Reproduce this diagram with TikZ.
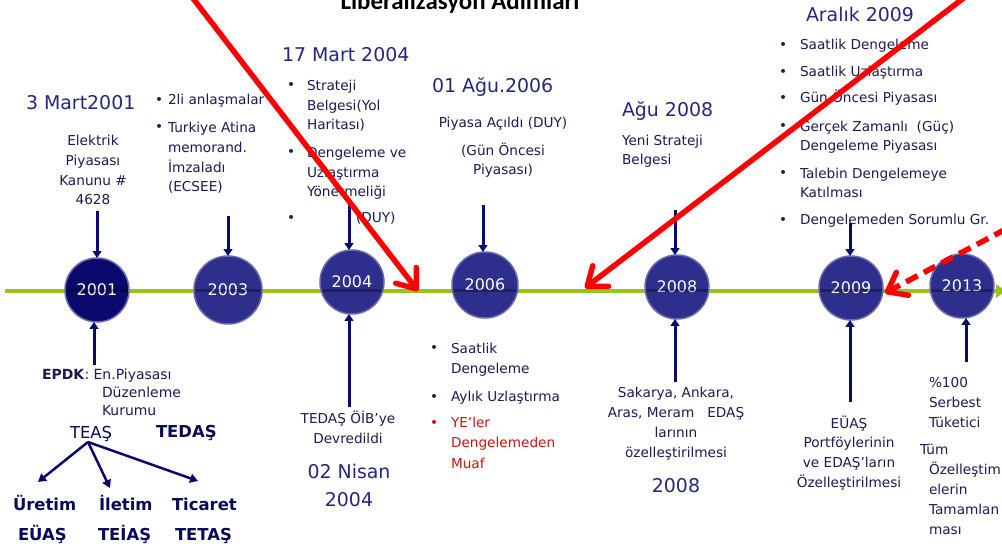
\documentclass[tikz,border=0pt]{standalone}
\usepackage{fontspec}
\setmainfont{DejaVu Sans}
\newfontfamily\titlefont{Carlito}
\usetikzlibrary{arrows.meta}
\definecolor{datecol}{HTML}{262680}
\definecolor{bodycol}{HTML}{1C1C50}
\definecolor{boldcol}{HTML}{0A0A5A}
\definecolor{circcol}{HTML}{2E2E8C}
\definecolor{circdark}{HTML}{0A0A6C}
\definecolor{circedge}{HTML}{6A6AAE}
\definecolor{navy}{HTML}{0A0A6E}
\definecolor{linegreen}{HTML}{99C31F}
\definecolor{redtext}{HTML}{CC1414}
\begin{document}
\begin{tikzpicture}[x=1bp,y=-1bp,
  every node/.style={inner sep=0pt, outer sep=0pt},
  date/.style={font=\fontsize{19}{28}\selectfont, text=datecol, align=center},
  body/.style={font=\fontsize{13.7}{20}\selectfont, text=bodycol, align=left},
  bodyc/.style={font=\fontsize{13.7}{20}\selectfont, text=bodycol, align=center},
  bul/.style={font=\fontsize{13.7}{20}\selectfont, text=bodycol},
  year/.style={circle, fill=circcol, draw=circedge, line width=1.5bp, minimum size=64bp, text=white, font=\fontsize{16}{16}\selectfont},
  navyarrow/.style={draw=navy, line width=3bp, -{Triangle[length=7pt,width=9pt]}},
  treearrow/.style={draw=navy, line width=2.5bp, -{Triangle[length=8pt,width=9pt]}},
  bigbold/.style={font=\fontsize{16.5}{20}\selectfont\bfseries, text=boldcol},
  redarrow/.style={draw=red, line width=5.5bp, -{Straight Barb[length=17pt,width=26pt,round]}},
]
\useasboundingbox (0,0) rectangle (1002,546);
\fill[white] (0,0) rectangle (1002,546);

% title (cut at top)
\node[anchor=base, font=\titlefont\bfseries\fontsize{25}{25}\selectfont, text=black] (title) at (460,10) {Liberalizasyon Adımları};

% timeline
\coordinate (gstart) at (5,291);
\coordinate (gend) at (1006,291);
\draw[linegreen, line width=4bp, -{Triangle[length=10pt,width=13pt]}] (gstart) -- (gend);

% year circles
\node[year, fill=circdark] (c2001) at (97,290) {2001};
\node[year, minimum size=68bp] (c2003) at (228,290) {2003};
\node[year] (c2004) at (352,282) {2004};
\node[year, minimum size=66bp] (c2006) at (485,285) {2006};
\node[year] (c2008) at (677,287) {2008};
\node[year] (c2009) at (851,288) {2009};
\node[year] (c2013) at (962,286) {2013};
\begin{scope}
  \clip (c2001.center) circle[radius=31bp] (c2003.center) circle[radius=33bp]
        (c2004.center) circle[radius=31bp] (c2006.center) circle[radius=32bp]
        (c2008.center) circle[radius=31bp] (c2009.center) circle[radius=31bp]
        (c2013.center) circle[radius=31bp];
  \draw[black, opacity=.3, line width=3bp] (gstart) -- (gend);
\end{scope}

% connectors to circles
\coordinate (a01t) at (97,211);  \draw[navyarrow] (a01t) -- (a01t |- c2001.north);
\coordinate (a03t) at (228,216); \draw[navyarrow] (a03t) -- (a03t |- c2003.north);
\coordinate (a04t) at (349,205); \draw[navyarrow] (a04t) -- (a04t |- c2004.north);
\coordinate (a06t) at (483,205); \draw[navyarrow] (a06t) -- (a06t |- c2006.north);
\coordinate (a08t) at (675,210); \draw[navyarrow] (a08t) -- (a08t |- c2008.north);
\coordinate (a09t) at (850,223); \draw[navyarrow] (a09t) -- (a09t |- c2009.north);
\coordinate (a01b) at (94,365);  \draw[navyarrow] (a01b) -- (a01b |- c2001.south);
\coordinate (a04b) at (349,407); \draw[navyarrow] (a04b) -- (a04b |- c2004.south);
\coordinate (a08b) at (675,382); \draw[navyarrow] (a08b) -- (a08b |- c2008.south);
\coordinate (a09b) at (850,402); \draw[navyarrow] (a09b) -- (a09b |- c2009.south);
\coordinate (a13b) at (966,362); \draw[navyarrow] (a13b) -- (a13b |- c2013.south);

% (multi-line nodes are placed by the baseline of their last line)
% 2001 top
\node[date, anchor=base west] (d2001) at (26,110) {3 Mart2001};
\node[bodyc, anchor=base] (t2001) at (93,205) {Elektrik\\Piyasası\\Kanunu \#\\4628};

% 2003 top
\node[bul, anchor=base west] (b03a) at (155,105) {•};
\node[body, anchor=base west] (t03a) at (168,105) {2li anlaşmalar};
\node[bul, anchor=base west] (b03b) at (155,132) {•};
\node[body, anchor=base west] (t03b) at (168,192) {Turkiye Atina\\memorand.\\İmzaladı\\(ECSEE)};

% 2004 top
\node[date, anchor=base west] (d2004) at (282,62) {17 Mart 2004};
\node[bul, anchor=base west] (b04a) at (287,90) {•};
\node[body, anchor=base west] (t04a) at (307,130) {Strateji\\Belgesi(Yol\\Haritası)};
\node[bul, anchor=base west] (b04b) at (287,157) {•};
\node[body, anchor=base west] (t04b) at (307,197) {Dengeleme ve\\Uzlaştırma\\Yönetmeliği};
\node[bul, anchor=base west] (b04c) at (287,223) {•};
\node[body, anchor=base west] (t04c) at (356,223) {(DUY)};

% 2006 top
\node[date, anchor=base west] (d2006) at (432,93) {01 Ağu.2006};
\node[bodyc, anchor=base] (t06a) at (503,128) {Piyasa Açıldı (DUY)};
\node[bodyc, anchor=base] (t06b) at (503,175) {(Gün Öncesi\\Piyasası)};

% 2008 top
\node[date, anchor=base west] (d2008) at (622,117) {Ağu 2008};
\node[body, anchor=base west] (t2008) at (622,165) {Yeni Strateji\\Belgesi};

% 2009 top
\node[date, anchor=base west] (d2009) at (806,22) {Aralık 2009};
\node[bul, anchor=base west] (b09a) at (779,50) {•};
\node[body, anchor=base west] (t09a) at (800,50) {Saatlik Dengeleme};
\node[bul, anchor=base west] (b09b) at (779,77) {•};
\node[body, anchor=base west] (t09b) at (800,77) {Saatlik Uzlaştırma};
\node[bul, anchor=base west] (b09c) at (779,103) {•};
\node[body, anchor=base west] (t09c) at (800,103) {Gün Öncesi Piyasası};
\node[bul, anchor=base west] (b09d) at (779,131) {•};
\node[body, anchor=base west] (t09d) at (800,151) {Gerçek Zamanlı~~(Güç)\\Dengeleme Piyasası};
\node[bul, anchor=base west] (b09e) at (779,178) {•};
\node[body, anchor=base west] (t09e) at (800,198) {Talebin Dengelemeye\\Katılması};
\node[bul, anchor=base west] (b09f) at (779,225) {•};
\node[body, anchor=base west] (t09f) at (800,225) {Dengelemeden Sorumlu Gr.};

% 2001 bottom
\node[anchor=base west, font=\fontsize{14}{17.5}\selectfont, text=bodycol] (epdk) at (42,380) {\textbf{EPDK}: En.Piyasası};
\node[anchor=base west, font=\fontsize{14}{17.5}\selectfont, text=bodycol, align=left] (epdk2) at (102,415) {Düzenleme\\Kurumu};
\node[anchor=base west, font=\fontsize{16.5}{20}\selectfont, text=boldcol] (teas) at (70,438) {TEAŞ};
\node[bigbold, anchor=base west] (tedas) at (156,437) {TEDAŞ};
\node[bigbold, anchor=base west] (uretim) at (13,510) {Üretim};
\node[bigbold, anchor=base west] (iletim) at (99,510) {İletim};
\node[bigbold, anchor=base west] (ticaret) at (172,510) {Ticaret};
\node[bigbold, anchor=base west] (euas) at (18,540) {EÜAŞ};
\node[bigbold, anchor=base west] (teias) at (98,540) {TEİAŞ};
\node[bigbold, anchor=base west] (tetas) at (175,540) {TETAŞ};
\coordinate (teasfoot) at (88,442);
\coordinate (uretimtop) at (38,482);
\coordinate (iletimtop) at (110,488);
\coordinate (ticarettop) at (198,481);
\draw[treearrow] (teasfoot) -- (uretimtop);
\draw[treearrow] (teasfoot) -- (iletimtop);
\draw[treearrow] (teasfoot) -- (ticarettop);

% 2004 bottom
\node[bodyc, anchor=base] (t04bot) at (348,443) {TEDAŞ ÖİB’ye\\Devredildi};
\node[date, anchor=base] (d04bot) at (349,506) {02 Nisan\\2004};

% 2006 bottom
\node[bul, anchor=base west] (b06a) at (430,353) {•};
\node[body, anchor=base west, font=\fontsize{13.7}{21}\selectfont] (t06c) at (451,374) {Saatlik\\Dengeleme};
\node[bul, anchor=base west] (b06b) at (430,401) {•};
\node[body, anchor=base west] (t06d) at (451,401) {Aylık Uzlaştırma};
\node[bul, anchor=base west, text=redtext] (b06c) at (430,427) {•};
\node[body, anchor=base west, text=redtext, font=\fontsize{13.7}{20.5}\selectfont] (t06e) at (451,468) {YE’ler\\Dengelemeden\\Muaf};

% 2008 bottom
\node[bodyc, anchor=base] (t08bot) at (676,457) {Sakarya, Ankara,\\Aras, Meram~~~EDAŞ\\larının\\özelleştirilmesi};
\node[date, anchor=base] (d08bot) at (676,492) {2008};

% 2009 bottom
\node[bodyc, anchor=base, font=\fontsize{13.7}{19.7}\selectfont] (t09bot) at (849,487) {EÜAŞ\\Portföylerinin\\ve EDAŞ’ların\\Özelleştirilmesi};

% 2013 bottom
\node[body, anchor=base west] (t13a) at (929,427) {\%100\\Serbest\\Tüketici};
\node[body, anchor=base west] (t13b) at (920,454) {Tüm};
\node[body, anchor=base west] (t13c) at (929,534) {Özelleştim\\elerin\\Tamamlan\\ması};

% red overlay arrows
\coordinate (r1s) at (192,-3);  \coordinate (r1e) at (418,291);
\coordinate (r2s) at (965,-3);  \coordinate (r2e) at (585,288);
\coordinate (r3s) at (1006,229); \coordinate (r3e) at (885,293);
\draw[redarrow] (r1s) -- (r1e);
\draw[redarrow] (r2s) -- (r2e);
\draw[redarrow, dash pattern=on 13bp off 7bp] (r3s) -- (r3e);
\end{tikzpicture}
\end{document}
